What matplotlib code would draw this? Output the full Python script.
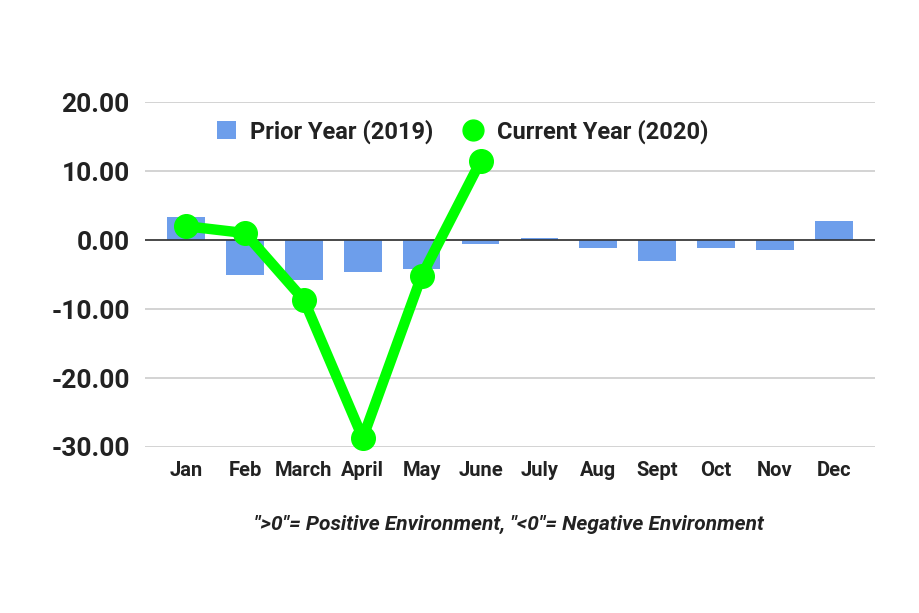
import matplotlib
matplotlib.use("Agg")
import matplotlib.pyplot as plt
from matplotlib.lines import Line2D
from matplotlib.patches import Patch
import numpy as np

months = ["Jan", "Feb", "March", "April", "May", "June", "July", "Aug", "Sept", "Oct", "Nov", "Dec"]
prior_2019 = [3.3, -5.1, -5.8, -4.6, -4.2, -0.6, 0.3, -1.1, -3.0, -1.1, -1.5, 2.8]
current_2020 = [2.0, 1.0, -8.7, -28.7, -5.2, 11.4]
y_ticks = [20, 10, 0, -10, -20, -30]

plt.rcParams['font.family'] = ['Roboto', 'DejaVu Sans']

fig = plt.figure(figsize=(9.2, 6.13), dpi=100)
ax = fig.add_axes([0.1576, 0.2708, 0.7934, 0.5628])

bar_color = "#6d9eeb"
line_color = "#00ff00"

x = np.arange(len(months))
ax.bar(x, prior_2019, width=0.64, color=bar_color, zorder=2)
ax.plot(np.arange(len(current_2020)), current_2020, color=line_color, lw=7.5,
        marker="o", markersize=17, zorder=4, clip_on=False)
ax.axhline(0, color="#333333", lw=1.2, zorder=3)

ax.set_ylim(-30, 20)
ax.set_xlim(-0.7, 11.7)
ax.set_yticks(y_ticks)
ax.set_yticklabels([f"{v:.2f}" for v in y_ticks], fontsize=19, fontweight="bold", color="#222222")
ax.set_xticks(x)
ax.set_xticklabels(months, fontsize=14.5, fontweight="bold", color="#222222")
ax.tick_params(axis="both", length=0)
ax.tick_params(axis="y", pad=11)
ax.tick_params(axis="x", pad=10)
ax.grid(axis="y", color="#cccccc", lw=1.2, zorder=0)
for s in ax.spines.values():
    s.set_visible(False)

handles = [Patch(facecolor=bar_color, edgecolor="none"),
           Line2D([], [], color=line_color, marker="o", linestyle="none", markersize=15)]
leg = ax.legend(handles, ["Prior Year (2019)", "Current Year (2020)"],
                loc="upper center", bbox_to_anchor=(0.435, 1.012), ncol=2, frameon=False,
                handlelength=0.8, handleheight=0.8, handletextpad=0.6, columnspacing=1.3,
                prop={"weight": "bold", "size": 17})
for t in leg.get_texts():
    t.set_color("#222222")

fig.text(0.553, 0.145, "\">0\"= Positive Environment, \"<0\"= Negative Environment",
         ha="center", va="center", fontsize=15, fontstyle="italic", fontweight="bold", color="#222222")

fig.savefig("out.png", dpi=100, facecolor="white")
